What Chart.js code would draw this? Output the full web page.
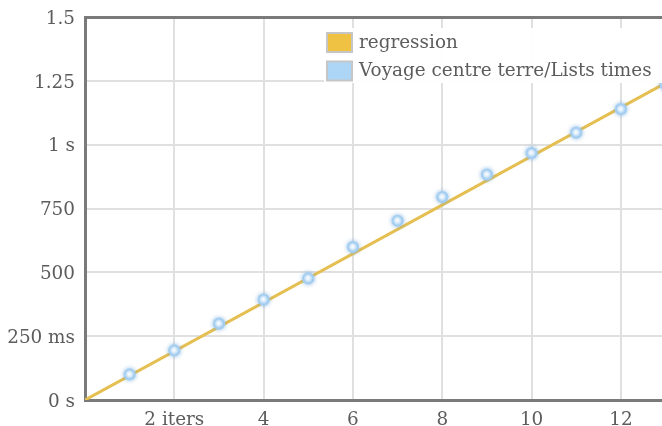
<!DOCTYPE html>
<html>
<head>
<meta charset="utf-8">
<script src="https://cdn.jsdelivr.net/npm/chart.js@4"></script>
<style>
  html, body { margin: 0; padding: 0; background: #fff; overflow: hidden; }
  #wrap { width: 662px; height: 426px; position: relative; overflow: hidden; }
</style>
</head>
<body>
<div id="wrap"><canvas id="c" width="662" height="426"></canvas></div>
<script>
// ---- data ----
const iterations = [1, 2, 3, 4, 5, 6, 7, 8, 9, 10, 11, 12, 13];
const timesSeconds = [0.100, 0.194, 0.299, 0.393, 0.476, 0.599, 0.702, 0.795, 0.883, 0.967, 1.047, 1.139, 1.237];
const regressionX = [0, 13];
const regressionY = [0, 1.2415];
const seriesLabels = ['regression', 'Voyage centre terre/Lists times'];
const xTickValues = [2, 4, 6, 8, 10, 12];
const xTickLabels = ['2 iters', '4', '6', '8', '10', '12'];
const yTickValues = [0, 0.25, 0.5, 0.75, 1, 1.25, 1.5];
const yTickLabels = ['0 s', '250 ms', '500', '750', '1 s', '1.25', '1.5'];

const FONT = { family: 'DejaVu Serif', size: 18.4 };
const TEXT = '#5c5c5c';
const AXIS = '#7a7a7a';
const GRID = '#e0e0e0';
const YELLOW = '#e5bf52';
const BLUE = '#acd5f6';

const legendPlugin = {
  id: 'customLegend',
  afterDatasetsDraw(chart) {
    const ctx = chart.ctx;
    const a = chart.chartArea;
    const x0 = a.left + 239, y0 = a.top + 11;
    ctx.save();
    ctx.fillStyle = 'rgba(255,255,255,0.95)';
    ctx.fillRect(x0, y0, a.right - x0, 55);
    const items = [
      { label: seriesLabels[0], color: '#efc243' },
      { label: seriesLabels[1], color: BLUE }
    ];
    ctx.font = FONT.size + 'px "' + FONT.family + '"';
    ctx.textBaseline = 'middle';
    ctx.textAlign = 'left';
    items.forEach((it, i) => {
      const by = y0 + 4 + i * 28.5;
      ctx.fillStyle = '#c6c6c6';
      ctx.fillRect(x0 + 2, by, 27, 21);
      ctx.fillStyle = it.color;
      ctx.fillRect(x0 + 4, by + 2, 23, 17);
      ctx.fillStyle = TEXT;
      ctx.fillText(it.label, x0 + 35, by + 11);
    });
    ctx.restore();
  }
};

const glowPlugin = {
  id: 'pointGlow',
  beforeDatasetDraw(chart, args) {
    if (args.index === 1) {
      chart.ctx.save();
      chart.ctx.shadowColor = 'rgba(110,165,215,0.65)';
      chart.ctx.shadowBlur = 4;
    }
  },
  afterDatasetDraw(chart, args) {
    if (args.index === 1) chart.ctx.restore();
  }
};

function pointFill(c) {
  const solid = '#d2e9fb';
  if (!c.parsed || !c.chart.scales.x || !c.chart.scales.y) return solid;
  const ch = c.chart;
  const px = ch.scales.x.getPixelForValue(c.parsed.x);
  const py = ch.scales.y.getPixelForValue(c.parsed.y);
  if (!isFinite(px) || !isFinite(py)) return solid;
  const g = ch.ctx.createRadialGradient(px - 0.6, py - 0.6, 0, px, py, 5.5);
  g.addColorStop(0, '#ffffff');
  g.addColorStop(0.3, '#f2f9ff');
  g.addColorStop(0.65, '#c9e4fa');
  g.addColorStop(1, '#90c4ee');
  return g;
}

new Chart(document.getElementById('c'), {
  type: 'scatter',
  data: {
    datasets: [
      {
        label: seriesLabels[0],
        type: 'line',
        data: regressionX.map((x, i) => ({ x: x, y: regressionY[i] })),
        borderColor: YELLOW,
        borderWidth: 3,
        pointRadius: 0,
        fill: false,
        order: 2
      },
      {
        label: seriesLabels[1],
        data: iterations.map((x, i) => ({ x: x, y: timesSeconds[i] })),
        pointRadius: 5.5,
        pointHoverRadius: 5.5,
        pointBackgroundColor: pointFill,
        pointBorderColor: '#a7d0f2',
        pointBorderWidth: 1.2,
        showLine: false,
        order: 1
      }
    ]
  },
  options: {
    responsive: false,
    animation: false,
    events: [],
    layout: { autoPadding: false, padding: { top: 17, right: 0, left: 0, bottom: 0 } },
    plugins: { legend: { display: false }, tooltip: { enabled: false } },
    scales: {
      x: {
        type: 'linear',
        position: 'bottom',
        min: 0,
        max: 12.92,
        afterBuildTicks(s) { s.ticks = xTickValues.map(v => ({ value: v })); },
        afterFit(s) { s.height = 26; s.paddingLeft = 0; s.paddingRight = 0; },
        ticks: {
          font: FONT,
          color: TEXT,
          padding: 9,
          maxRotation: 0,
          autoSkip: false,
          callback(v, i) { return xTickLabels[i]; }
        },
        grid: { color: GRID, lineWidth: 2, drawTicks: false },
        border: { display: true, color: AXIS, width: 3 }
      },
      x2: {
        type: 'linear',
        position: 'top',
        min: 0,
        max: 1,
        afterFit(s) { s.height = 0; s.paddingLeft = 0; s.paddingRight = 0; },
        ticks: { display: false },
        grid: { display: false, drawTicks: false },
        border: { display: true, color: AXIS, width: 3 }
      },
      y: {
        type: 'linear',
        min: 0,
        max: 1.5,
        afterBuildTicks(s) { s.ticks = yTickValues.map(v => ({ value: v })); },
        afterFit(s) { s.width = 85; s.paddingTop = 0; s.paddingBottom = 0; },
        ticks: {
          font: FONT,
          color: TEXT,
          padding: 10,
          labelOffset: 2,
          autoSkip: false,
          callback(v, i) { return yTickLabels[i]; }
        },
        grid: { color: GRID, lineWidth: 2, drawTicks: false },
        border: { display: true, color: AXIS, width: 3 }
      }
    }
  },
  plugins: [legendPlugin, glowPlugin]
});
</script>
</body>
</html>
